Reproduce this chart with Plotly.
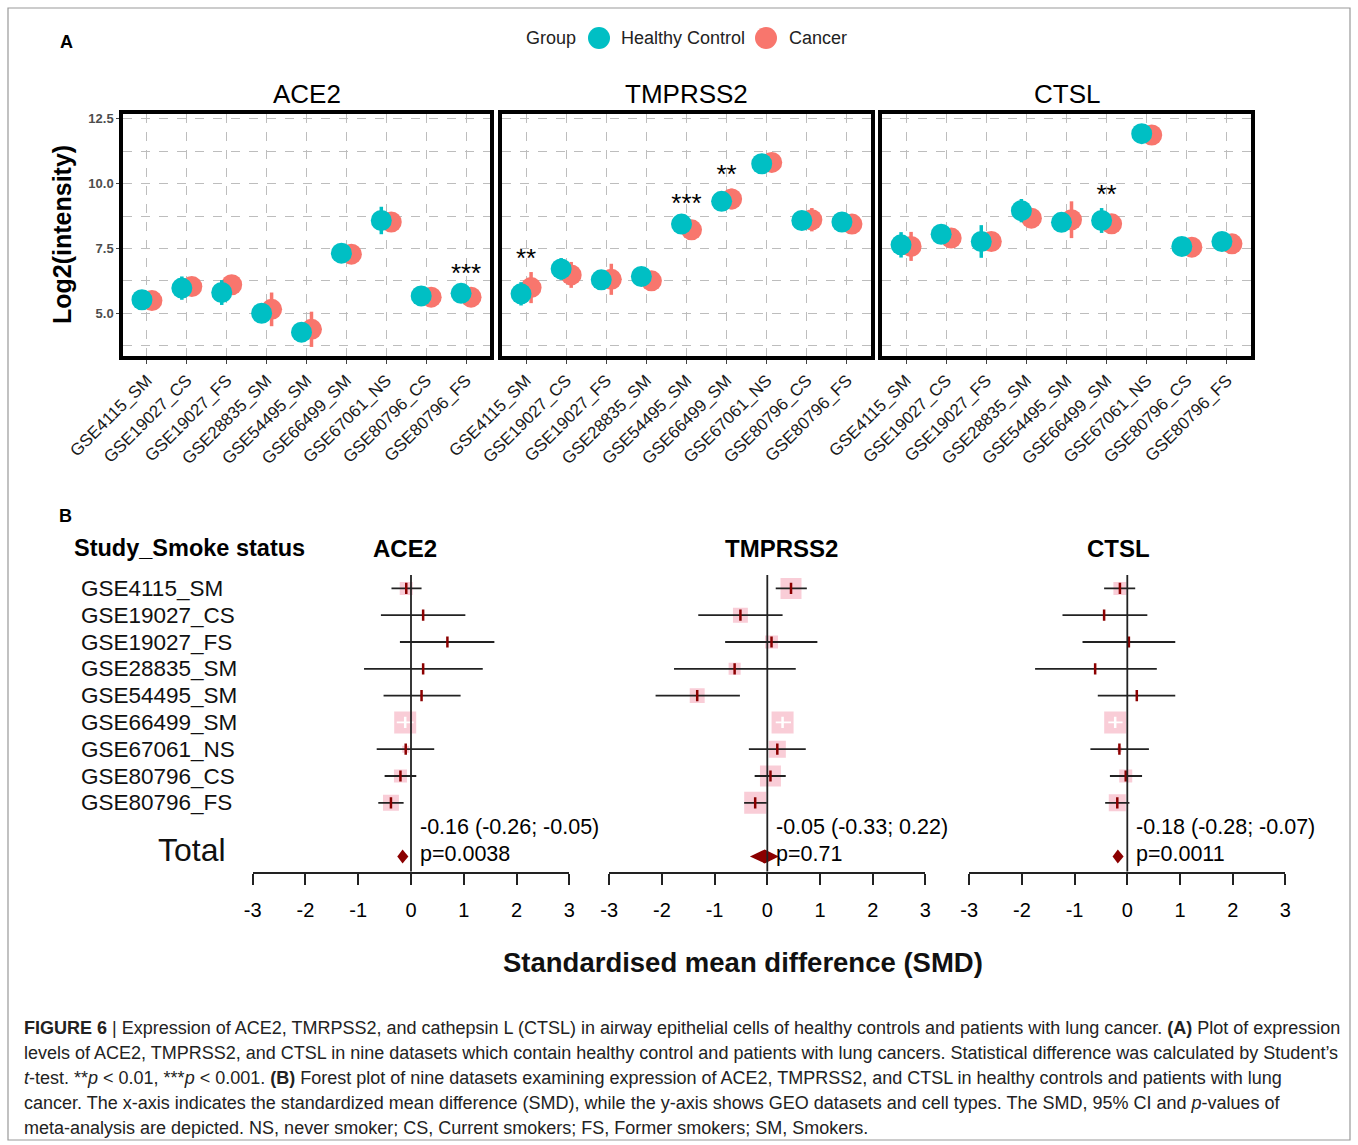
import plotly.graph_objects as go

W, H = 1358, 1145


def px(x):
    return x / W


def py(y):
    return 1 - y / H


FONT = "Liberation Sans, Arial, sans-serif"
TEAL = "#00BFC4"
RED = "#F8766D"
PINK = "#F6B8C6"
DARKRED = "#8B0000"
GRID = "#BDBDBD"

# ---------------- data ----------------
datasets = ["GSE4115_SM", "GSE19027_CS", "GSE19027_FS", "GSE28835_SM", "GSE54495_SM",
            "GSE66499_SM", "GSE67061_NS", "GSE80796_CS", "GSE80796_FS"]
genes = ["ACE2", "TMPRSS2", "CTSL"]

# Panel A : mean log2 intensity (Healthy control / Cancer) and error
ace2_hc = [5.52, 5.97, 5.80, 5.00, 4.27, 7.32, 8.58, 5.67, 5.77]
ace2_ca = [5.49, 6.03, 6.10, 5.15, 4.38, 7.28, 8.52, 5.62, 5.62]
ace2_hc_err = [0.25, 0.45, 0.48, 0.25, 0.25, 0.25, 0.53, 0.25, 0.25]
ace2_ca_err = [0.25, 0.25, 0.30, 0.65, 0.68, 0.25, 0.25, 0.25, 0.25]
ace2_sig = ["", "", "", "", "", "", "", "", "***"]

tmprss2_hc = [5.75, 6.71, 6.29, 6.42, 8.44, 9.32, 10.77, 8.58, 8.52]
tmprss2_ca = [5.99, 6.48, 6.31, 6.25, 8.22, 9.41, 10.82, 8.61, 8.44]
tmprss2_hc_err = [0.45, 0.42, 0.25, 0.25, 0.25, 0.25, 0.25, 0.25, 0.25]
tmprss2_ca_err = [0.60, 0.50, 0.60, 0.25, 0.25, 0.40, 0.25, 0.45, 0.25]
tmprss2_sig = ["**", "", "", "", "***", "**", "", "", ""]

ctsl_hc = [7.64, 8.05, 7.77, 8.96, 8.51, 8.58, 11.93, 7.58, 7.77]
ctsl_ca = [7.58, 7.90, 7.77, 8.67, 8.61, 8.45, 11.88, 7.55, 7.68]
ctsl_hc_err = [0.49, 0.25, 0.63, 0.45, 0.25, 0.48, 0.25, 0.25, 0.25]
ctsl_ca_err = [0.56, 0.25, 0.25, 0.25, 0.71, 0.25, 0.25, 0.25, 0.25]
ctsl_sig = ["", "", "", "", "", "**", "", "", ""]

y_ticks = [5.0, 7.5, 10.0, 12.5]
y_tick_labels = ["5.0", "7.5", "10.0", "12.5"]

# Panel B : standardised mean difference, 95% CI, weight (%)
ace2_smd = [-0.09, 0.23, 0.69, 0.23, 0.20, -0.11, -0.10, -0.20, -0.38]
ace2_lo = [-0.37, -0.57, -0.21, -0.89, -0.52, -0.27, -0.65, -0.50, -0.62]
ace2_hi = [0.20, 1.03, 1.58, 1.36, 0.94, 0.05, 0.44, 0.10, -0.14]
ace2_w = [14.0, 0.4, 0.4, 0.4, 0.8, 40.0, 4.0, 14.0, 21.0]

tmprss2_smd = [0.45, -0.51, 0.08, -0.62, -1.33, 0.29, 0.19, 0.06, -0.23]
tmprss2_lo = [0.16, -1.31, -0.80, -1.77, -2.12, 0.16, -0.35, -0.24, -0.44]
tmprss2_hi = [0.75, 0.29, 0.95, 0.54, -0.52, 0.45, 0.73, 0.35, -0.01]
tmprss2_w = [13.0, 6.6, 5.0, 4.3, 6.6, 14.3, 8.6, 13.0, 14.3]

ctsl_smd = [-0.14, -0.44, 0.03, -0.61, 0.18, -0.23, -0.15, -0.03, -0.19]
ctsl_lo = [-0.44, -1.23, -0.85, -1.75, -0.56, -0.36, -0.70, -0.33, -0.42]
ctsl_hi = [0.15, 0.38, 0.91, 0.56, 0.91, -0.09, 0.41, 0.28, 0.04]
ctsl_w = [14.0, 0.3, 0.3, 0.3, 0.3, 40.0, 2.0, 14.0, 24.0]

total_smd = [-0.16, -0.05, -0.18]
total_lo = [-0.26, -0.33, -0.28]
total_hi = [-0.05, 0.22, -0.07]
total_p = ["0.0038", "0.71", "0.0011"]

smd_ticks = [-3, -2, -1, 0, 1, 2, 3]
smd_tick_labels = ["-3", "-2", "-1", "0", "1", "2", "3"]

caption_lines = [
    "<b>FIGURE 6</b> | Expression of ACE2, TMRPSS2, and cathepsin L (CTSL) in airway epithelial cells of healthy controls and patients with lung cancer. <b>(A)</b> Plot of expression",
    "levels of ACE2, TMPRSS2, and CTSL in nine datasets which contain healthy control and patients with lung cancers. Statistical difference was calculated by Student’s",
    "<i>t</i>-test. **<i>p</i> &lt; 0.01, ***<i>p</i> &lt; 0.001. <b>(B)</b> Forest plot of nine datasets examining expression of ACE2, TMPRSS2, and CTSL in healthy controls and patients with lung",
    "cancer. The x-axis indicates the standardized mean difference (SMD), while the y-axis shows GEO datasets and cell types. The SMD, 95% CI and <i>p</i>-values of",
    "meta-analysis are depicted. NS, never smoker; CS, Current smokers; FS, Former smokers; SM, Smokers.",
]

panelA = [
    (ace2_hc, ace2_ca, ace2_hc_err, ace2_ca_err, ace2_sig),
    (tmprss2_hc, tmprss2_ca, tmprss2_hc_err, tmprss2_ca_err, tmprss2_sig),
    (ctsl_hc, ctsl_ca, ctsl_hc_err, ctsl_ca_err, ctsl_sig),
]
panelB = [
    (ace2_smd, ace2_lo, ace2_hi, ace2_w),
    (tmprss2_smd, tmprss2_lo, tmprss2_hi, tmprss2_w),
    (ctsl_smd, ctsl_lo, ctsl_hi, ctsl_w),
]

# ---------------- layout geometry (pixels) ----------------
A_x = [(123, 490), (502, 871), (882, 1251)]
A_top, A_bot = 114, 356
A_yrange = [3.35, 12.69]
B_x = [(252.7, 569.3), (609.2, 925.4), (969.2, 1285.4)]
B_header_x = [405, 782, 1118]
B_top, B_bot = 575, 871.7
B_yrange = [10.57, -0.5]
DODGE = 0.125

fig = go.Figure()
layout = dict(
    width=W, height=H, margin=dict(l=0, r=0, t=0, b=0, autoexpand=False),
    paper_bgcolor="white", plot_bgcolor="white",
    font=dict(family=FONT, color="black"), showlegend=False,
)
annotations = []
shapes = []


def note(x, y, text, size, xanchor="center", yanchor="middle", color="black", **kw):
    d = dict(xref="paper", yref="paper", x=x, y=y, text=text, showarrow=False,
             xanchor=xanchor, yanchor=yanchor, font=dict(size=size, color=color))
    d.update(kw)
    annotations.append(d)


cats = list(range(len(datasets)))

for k in range(3):
    sfx = "" if k == 0 else str(k + 1)
    xa, ya = "x" + sfx, "y" + sfx
    hc, ca, hce, cae, sig = panelA[k]
    fig.add_trace(go.Scatter(
        x=[c + DODGE for c in cats], y=ca, mode="markers", name="Cancer",
        marker=dict(size=21, color=RED),
        error_y=dict(type="data", array=cae, color=RED, thickness=3.5, width=0),
        xaxis=xa, yaxis=ya))
    fig.add_trace(go.Scatter(
        x=[c - DODGE for c in cats], y=hc, mode="markers", name="Healthy Control",
        marker=dict(size=21, color=TEAL),
        error_y=dict(type="data", array=hce, color=TEAL, thickness=3.5, width=0),
        xaxis=xa, yaxis=ya))
    sx = [c for c in cats if sig[c]]
    sy = [max(hc[c] + hce[c], ca[c] + cae[c]) + 0.45 for c in sx]
    fig.add_trace(go.Scatter(
        x=sx, y=sy, mode="text", text=[sig[c] for c in sx],
        textfont=dict(size=26, color="black", family=FONT),
        textposition="middle center", xaxis=xa, yaxis=ya))

    layout["xaxis" + sfx] = dict(
        domain=[px(A_x[k][0]), px(A_x[k][1])], anchor=ya, range=[-0.6, 8.6],
        tickmode="array", tickvals=cats, ticktext=datasets, tickangle=-45,
        tickfont=dict(size=17, color="#1a1a1a"), automargin=False,
        showline=True, mirror=True, linewidth=3.5, linecolor="black",
        showgrid=True, gridcolor=GRID, griddash="dash", gridwidth=1.2,
        ticks="outside", ticklen=4, tickcolor="#444", zeroline=False)
    layout["yaxis" + sfx] = dict(
        domain=[py(A_bot), py(A_top)], anchor=xa, range=A_yrange,
        tickmode="array", tickvals=y_ticks, ticktext=y_tick_labels,
        showticklabels=(k == 0), automargin=False,
        tickfont=dict(size=13, color="#4D4D4D", weight="bold"),
        showline=True, mirror=True, linewidth=3.5, linecolor="black",
        showgrid=True, gridcolor=GRID, griddash="dash", gridwidth=1.2,
        minor=dict(tickvals=[3.75, 6.25, 8.75, 11.25], showgrid=True,
                   gridcolor=GRID, griddash="dash", gridwidth=1.2, ticks=""),
        ticks="outside" if k == 0 else "", ticklen=3, tickcolor="#444",
        zeroline=False)
    note(px((A_x[k][0] + A_x[k][1]) / 2), py(94), genes[k], 26)

# Panel A labels
note(px(62), py(235), "<b>Log2(intensity)</b>", 25, textangle=-90)
note(px(58), py(42), "<b>A</b>", 18, xanchor="left")
note(px(57), py(516), "<b>B</b>", 18, xanchor="left")
# legend
note(px(578), py(38), "Group", 18, xanchor="right", color="#222")
shapes.append(dict(type="circle", xref="paper", yref="paper", x0=px(588), x1=px(610),
                   y0=py(49), y1=py(27), fillcolor=TEAL, line=dict(width=0)))
note(px(619), py(38), "Healthy Control", 18, xanchor="left", color="#222")
shapes.append(dict(type="circle", xref="paper", yref="paper", x0=px(755), x1=px(777),
                   y0=py(49), y1=py(27), fillcolor=RED, line=dict(width=0)))
note(px(787), py(38), "Cancer", 18, xanchor="left", color="#222")

# ---------------- Panel B forest plots ----------------
rows = list(range(len(datasets)))
for k in range(3):
    n = k + 4
    xa, ya = "x%d" % n, "y%d" % n
    smd, lo, hi, w = panelB[k]
    wmax = max(w)
    sizes = [22 * (wi / wmax) ** 0.5 for wi in w]
    px_per_unit = (B_x[k][1] - B_x[k][0]) / 6.0
    covered = [(hi[i] - lo[i]) * px_per_unit < sizes[i] for i in rows]

    fig.add_trace(go.Scatter(x=smd, y=rows, mode="markers",
                             marker=dict(symbol="square", size=sizes, color=PINK, line=dict(width=0)),
                             xaxis=xa, yaxis=ya))
    bx, by, wx, wy = [], [], [], []
    for i in rows:
        if covered[i]:
            wx += [lo[i], hi[i], None]
            wy += [i, i, None]
        else:
            bx += [lo[i], hi[i], None]
            by += [i, i, None]
    fig.add_trace(go.Scatter(x=bx, y=by, mode="lines", line=dict(color="#222", width=1.8),
                             xaxis=xa, yaxis=ya))
    fig.add_trace(go.Scatter(x=wx, y=wy, mode="lines", line=dict(color="white", width=1.8),
                             xaxis=xa, yaxis=ya))
    fig.add_trace(go.Scatter(x=smd, y=rows, mode="markers",
                             marker=dict(symbol="line-ns", size=8,
                                         line=dict(width=2.5, color=["white" if c else DARKRED for c in covered])),
                             xaxis=xa, yaxis=ya))
    t, l, h = total_smd[k], total_lo[k], total_hi[k]
    fig.add_trace(go.Scatter(x=[l, t, h, t, l], y=[10, 9.74, 10, 10.26, 10], mode="lines",
                             fill="toself", fillcolor=DARKRED, line=dict(width=0, color=DARKRED),
                             xaxis=xa, yaxis=ya))
    shapes.append(dict(type="line", xref=xa, yref=ya, x0=0, x1=0, y0=-0.5, y1=B_yrange[0],
                       line=dict(color="#222", width=1.8)))
    annotations.append(dict(xref=xa, yref=ya, x=0, y=8.92, xshift=7, xanchor="left",
                            yanchor="middle", text="%.2f (%.2f; %.2f)" % (t, l, h),
                            showarrow=False, font=dict(size=21.5, color="black")))
    annotations.append(dict(xref=xa, yref=ya, x=0, y=9.92, xshift=7, xanchor="left",
                            yanchor="middle", text="p=" + total_p[k], showarrow=False,
                            font=dict(size=21.5, color="black")))
    note(px(B_header_x[k]), py(548), "<b>%s</b>" % genes[k], 24)
    layout[xa.replace("x", "xaxis")] = dict(
        domain=[px(B_x[k][0]), px(B_x[k][1])], anchor=ya, range=[-3, 3],
        tickmode="array", tickvals=smd_ticks, ticktext=smd_tick_labels,
        tickfont=dict(size=20, color="black"), ticks="outside", ticklen=11,
        tickwidth=1.8, tickcolor="#222", showline=True, linewidth=1.8, linecolor="#222",
        showgrid=False, zeroline=False, ticklabelstandoff=8, automargin=False)
    layout[ya.replace("y", "yaxis")] = dict(
        domain=[py(B_bot), py(B_top)], anchor=xa, range=B_yrange, visible=False,
        automargin=False)

# forest header and rows
note(px(72), py(548), "<b>Study_Smoke status</b>", 23.5, xanchor="left")
for i, name in enumerate(datasets):
    annotations.append(dict(xref="paper", yref="y4", x=px(78.5), y=i, xanchor="left",
                            yanchor="middle", text=name, showarrow=False,
                            font=dict(size=22.5, color="#111")))
annotations.append(dict(xref="paper", yref="y4", x=px(156), y=9.76, xanchor="left",
                        yanchor="middle", text="Total", showarrow=False,
                        font=dict(size=32, color="#111")))
note(px(743), py(962), "<b>Standardised mean difference (SMD)</b>", 27.5, color="#111")

# caption
for j, line in enumerate(caption_lines):
    note(px(22), py(1028 + 25 * j), line, 18, xanchor="left", color="#222")

# outer border
shapes.append(dict(type="rect", xref="paper", yref="paper", x0=px(8), x1=px(1350),
                   y0=py(1140), y1=py(8), line=dict(color="#999", width=1.2)))

layout["annotations"] = annotations
layout["shapes"] = shapes
fig.update_layout(**layout)

fig.write_html("out.html", config={"displayModeBar": False},
               post_script="document.body.style.margin='0';document.body.style.overflow='hidden';")
